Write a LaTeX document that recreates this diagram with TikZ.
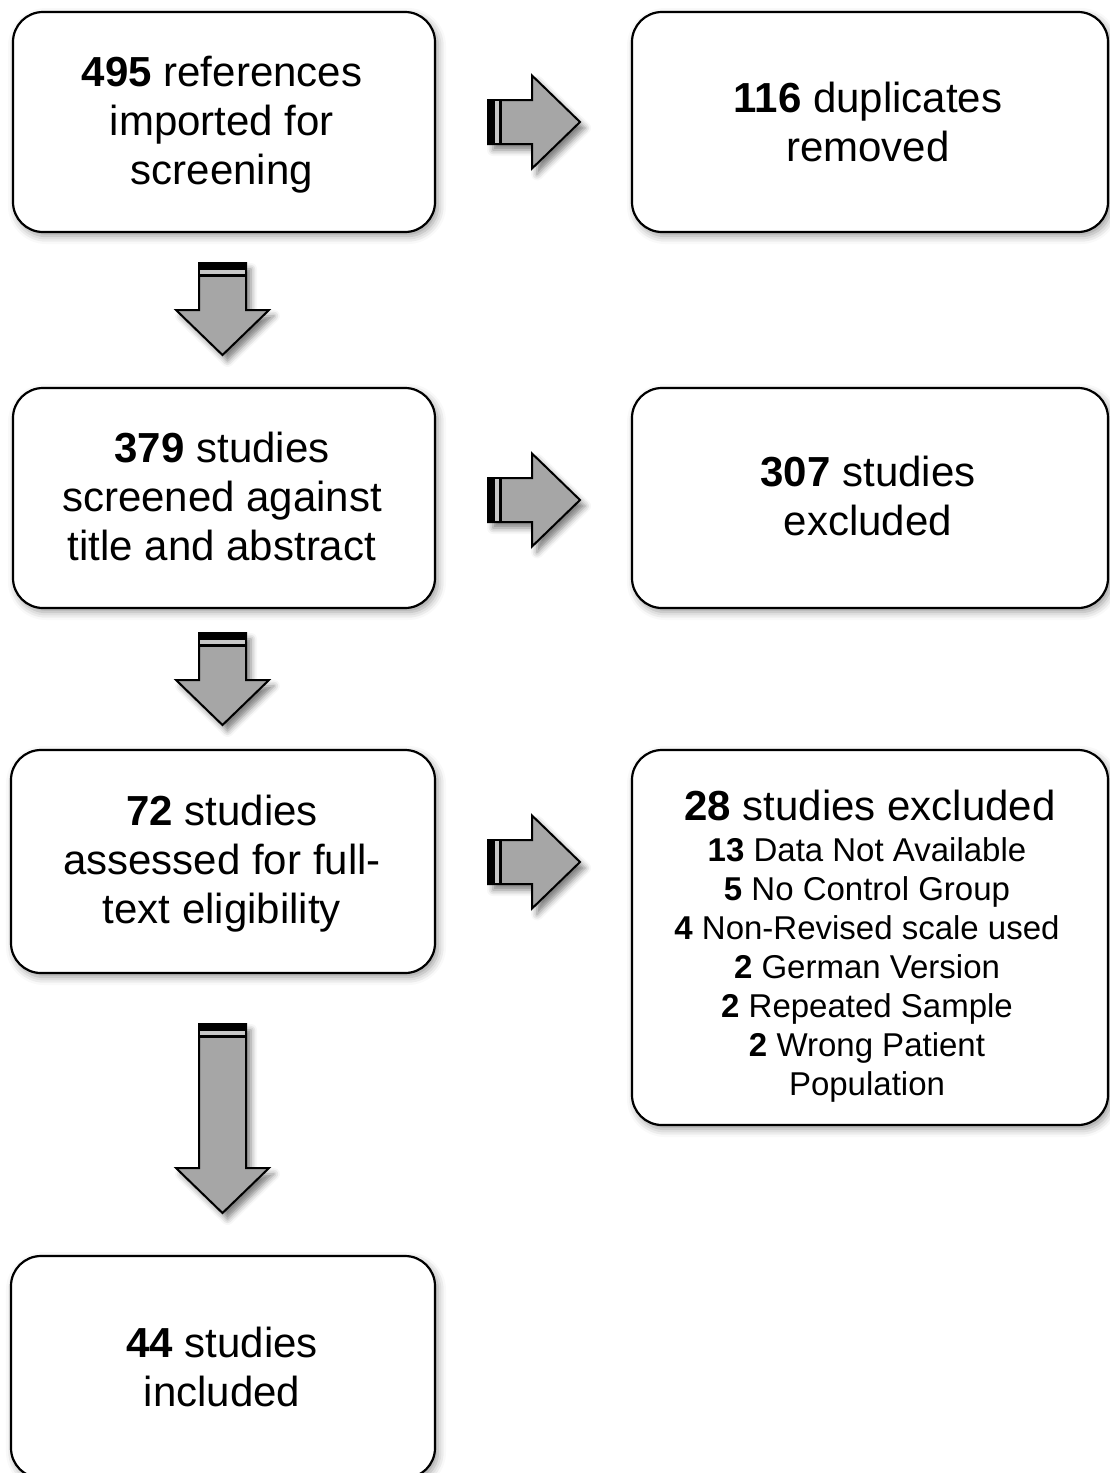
\documentclass[tikz,border=0pt]{standalone}
\usepackage{fontspec}
\setmainfont{Liberation Sans}
\usetikzlibrary{shadows.blur}
\definecolor{arrowgray}{RGB}{166,166,166}
\definecolor{bandgray}{RGB}{200,200,200}
\tikzset{
  flowbox/.style={draw=black, line width=2.2pt, rounded corners=30pt, fill=white,
    inner sep=0pt,
    blur shadow={shadow xshift=3pt, shadow yshift=-4pt, shadow blur radius=8pt, shadow opacity=40}},
  bigtext/.style={font=\fontsize{42}{49}\selectfont, align=center, inner sep=0pt},
  smalltext/.style={font=\fontsize{33}{39}\selectfont, align=center, inner sep=0pt},
  blockarrow/.style={draw=black, line width=2pt, fill=arrowgray, line join=miter,
    blur shadow={shadow xshift=5pt, shadow yshift=-6pt, shadow blur radius=6pt, shadow opacity=50}},
}
% right block arrow: #1 = tail x, #2 = centre y
\newcommand\flowRArrow[2]{%
  \begin{scope}[shift={(#1,#2)}]
    \draw[blockarrow] (0,-22) -- (44,-22) -- (44,-46.5) -- (92,0) -- (44,46.5) -- (44,22) -- (0,22) -- cycle;
    \fill[black] (-1,-23) rectangle (7,23);
    \fill[bandgray] (7,-21) rectangle (10.5,21);
    \fill[black] (10.5,-22) rectangle (13.5,22);
  \end{scope}}
% down block arrow: #1 = centre x, #2 = top y, #3 = y where head starts
\newcommand\flowDArrow[3]{%
  \draw[blockarrow] (#1-23.5,#2) -- (#1+23.5,#2) -- (#1+23.5,#3) -- (#1+46.5,#3)
     -- (#1,#3+45) -- (#1-46.5,#3) -- (#1-23.5,#3) -- cycle;
  \fill[black] (#1-24.5,#2-1) rectangle (#1+24.5,#2+7);
  \fill[bandgray] (#1-22.5,#2+7) rectangle (#1+22.5,#2+10.5);
  \fill[black] (#1-23.5,#2+10.5) rectangle (#1+23.5,#2+13.5);
}
\begin{document}
\begin{tikzpicture}[x=1pt,y=-1pt]
\useasboundingbox (0,0) rectangle (1110,1473);
\begin{scope}
\clip (0,0) rectangle (1110,1473);

% boxes
\node[flowbox, minimum width=422pt, minimum height=220pt] (A1) at (224,122) {};
\node[flowbox, minimum width=476pt, minimum height=220pt] (B1) at (870,122) {};
\node[flowbox, minimum width=422pt, minimum height=220pt] (A2) at (224,498) {};
\node[flowbox, minimum width=476pt, minimum height=220pt] (B2) at (870,498) {};
\node[flowbox, minimum width=424pt, minimum height=223pt] (A3) at (223,861.5) {};
\node[flowbox, minimum width=476pt, minimum height=375pt] (B3) at (870,937.5) {};
\node[flowbox, minimum width=424pt, minimum height=222pt] (A4) at (223,1367) {};

% texts
\node[bigtext] (tA1) at (222,125) {\textbf{495} references\\imported for\\screening};
\node[bigtext] (tB1) at (868,122) {\textbf{116} duplicates\\removed};
\node[bigtext] (tA2) at (222,496) {\textbf{379} studies\\screened against\\title and abstract};
\node[bigtext] (tB2) at (868,495.5) {\textbf{307} studies\\excluded};
\node[bigtext] (tA3) at (222,864) {\textbf{72} studies\\assessed for full-\\text eligibility};
\node[bigtext] (tB3h) at (870,805) {\textbf{28} studies excluded};
\node[smalltext] (tB3l) at (867,970) {\textbf{13} Data Not Available\\\textbf{5} No Control Group\\\textbf{4} Non-Revised scale used\\\textbf{2} German Version\\\textbf{2} Repeated Sample\\\textbf{2} Wrong Patient\\Population};
\node[bigtext] (tA4) at (222,1367) {\textbf{44} studies\\included};

% block arrows
\flowRArrow{488}{122}
\flowRArrow{488}{500}
\flowRArrow{488}{862}
\flowDArrow{222.5}{263}{310}
\flowDArrow{222.5}{633}{680}
\flowDArrow{222.5}{1024}{1168}
\end{scope}
\end{tikzpicture}
\end{document}
